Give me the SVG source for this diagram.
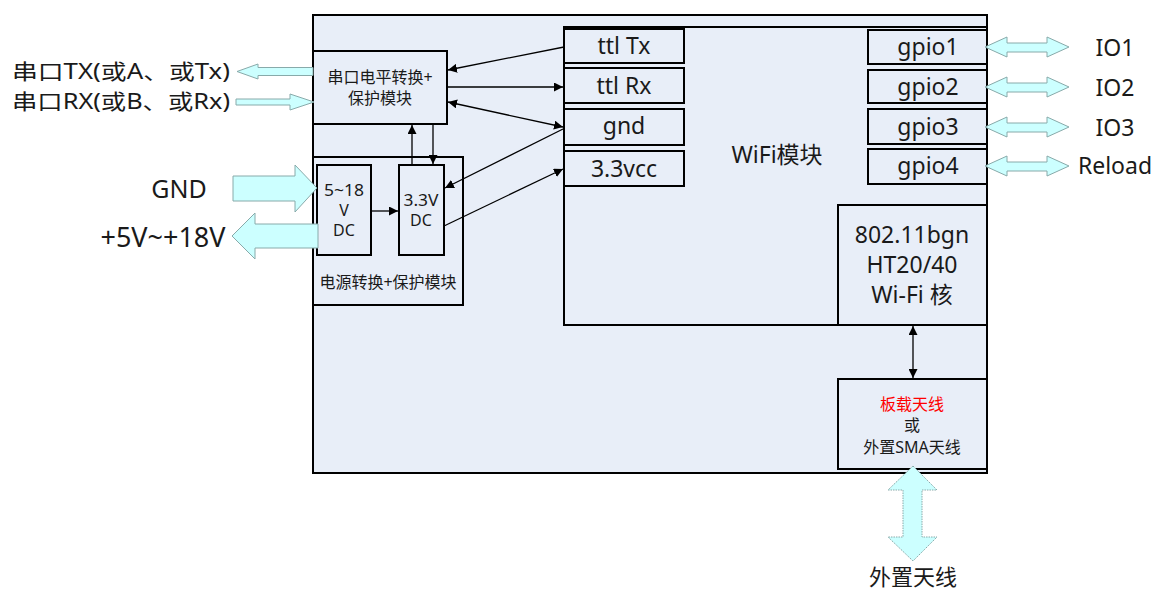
<svg xmlns="http://www.w3.org/2000/svg" width="1159" height="593" viewBox="0 0 1159 593">
<style>
text{font-family:"Noto Sans","Noto Sans CJK SC",sans-serif;fill:#1a1a1a;text-anchor:middle}
.box{fill:#E8EEF8;stroke:#000;stroke-width:2}
.blk{fill:#CCFFFF;stroke:#8aa;stroke-width:1}
.ln{stroke:#000;stroke-width:1.3;fill:none}
.big{font-size:23px}
.sm{font-size:16px}
.md{font-size:16px}
</style>
<defs>
<marker id="ah" viewBox="0 0 10 10" refX="10" refY="5" markerWidth="9" markerHeight="9" markerUnits="userSpaceOnUse" orient="auto-start-reverse"><path d="M0,0 L10,5 L0,10 Z" fill="#000"/></marker>
</defs>
<g id="outer"><rect class="box" x="313" y="15" width="674" height="458"/></g>
<g id="wifi"><rect class="box" x="564" y="27" width="423" height="298"/><text class="big" x="777" y="163">WiFi模块</text></g>
<g id="ttltx"><rect class="box" x="564" y="29" width="120" height="34"/><text class="big" x="624" y="54">ttl Tx</text></g>
<g id="ttlrx"><rect class="box" x="564" y="68" width="120" height="35"/><text class="big" x="624" y="94">ttl Rx</text></g>
<g id="gnd"><rect class="box" x="564" y="109" width="120" height="36"/><text class="big" x="624" y="134">gnd</text></g>
<g id="vcc"><rect class="box" x="564" y="151" width="120" height="35"/><text class="big" x="624" y="177">3.3vcc</text></g>
<g id="gpio1"><rect class="box" x="868" y="30" width="119" height="34"/><text class="big" x="928" y="55">gpio1</text></g>
<g id="gpio2"><rect class="box" x="868" y="70" width="119" height="33"/><text class="big" x="928" y="95">gpio2</text></g>
<g id="gpio3"><rect class="box" x="868" y="109" width="119" height="35"/><text class="big" x="928" y="135">gpio3</text></g>
<g id="gpio4"><rect class="box" x="868" y="149" width="119" height="35"/><text class="big" x="928" y="174">gpio4</text></g>
<g id="core"><rect class="box" x="838" y="205" width="149" height="120"/>
<text class="big" x="912" y="243">802.11bgn</text><text class="big" x="912" y="273">HT20/40</text><text class="big" x="912" y="303">Wi-Fi 核</text></g>
<g id="ant"><rect class="box" x="838" y="379" width="149" height="90"/>
<text class="sm" x="912" y="410" style="fill:#ff0000">板载天线</text><text class="sm" x="912" y="431">或</text><text class="sm" x="912" y="453">外置SMA天线</text></g>
<g id="serial"><rect class="box" x="313" y="51" width="134" height="73"/>
<text class="sm" x="380" y="83">串口电平转换+</text><text class="sm" x="380" y="104">保护模块</text></g>
<g id="power"><rect class="box" x="313" y="157" width="150" height="148"/>
<text class="sm" x="388" y="288">电源转换+保护模块</text></g>
<g id="v518"><rect class="box" x="317" y="165" width="54" height="90"/>
<text class="md" x="344" y="196" textLength="40" lengthAdjust="spacingAndGlyphs">5~18</text><text class="md" x="344" y="216">V</text><text class="md" x="344" y="236">DC</text></g>
<g id="v33"><rect class="box" x="399" y="165" width="45" height="90"/>
<text class="md" x="421" y="206" textLength="35" lengthAdjust="spacingAndGlyphs">3.3V</text><text class="md" x="421" y="226">DC</text></g>
<g id="connectors">
<line class="ln" x1="564" y1="47" x2="448" y2="70" marker-end="url(#ah)"/>
<line class="ln" x1="448" y1="87" x2="563" y2="87" marker-end="url(#ah)"/>
<line class="ln" x1="448" y1="102" x2="563" y2="127" marker-start="url(#ah)" marker-end="url(#ah)"/>
<line class="ln" x1="563" y1="129" x2="445" y2="188" marker-end="url(#ah)"/>
<line class="ln" x1="444" y1="226" x2="563" y2="169" marker-end="url(#ah)"/>
<line class="ln" x1="412" y1="165" x2="412" y2="125" marker-end="url(#ah)"/>
<line class="ln" x1="433" y1="124" x2="433" y2="164" marker-end="url(#ah)"/>
<line class="ln" x1="371" y1="211" x2="398" y2="211" marker-end="url(#ah)"/>
<line class="ln" x1="913" y1="326" x2="913" y2="378" marker-start="url(#ah)" marker-end="url(#ah)"/>
<path class="blk" d="M313,67.5 L258,67.5 L258,64 L237,71.5 L258,79 L258,75.5 L313,75.5 Z"/>
<path class="blk" d="M236,99 L290,99 L290,94 L314,102 L290,110 L290,105 L236,105 Z"/>
<path class="blk" d="M233,176 L295,176 L295,165 L317,188 L295,212 L295,201 L233,201 Z"/>
<path class="blk" d="M318,224 L255,224 L255,213 L232,236 L255,259 L255,248 L318,248 Z"/>
<path class="blk" d="M985,47 L1007,37 L1007,43 L1047,43 L1047,37 L1069,47 L1047,57 L1047,52 L1007,52 L1007,57 Z"/>
<path class="blk" d="M985,87 L1007,77 L1007,83 L1047,83 L1047,77 L1069,87 L1047,97 L1047,92 L1007,92 L1007,97 Z"/>
<path class="blk" d="M985,127 L1007,117 L1007,123 L1047,123 L1047,117 L1069,127 L1047,137 L1047,132 L1007,132 L1007,137 Z"/>
<path class="blk" d="M985,166 L1007,156 L1007,162 L1047,162 L1047,156 L1069,166 L1047,176 L1047,171 L1007,171 L1007,176 Z"/>
<path class="blk" style="stroke-dasharray:1.5 1" d="M913,466 L937,490 L922,490 L922,537 L937,537 L913,561 L888,537 L903,537 L903,490 L888,490 Z"/>
</g>
<g id="labels">
<text style="font-size:21px;text-anchor:start" x="12" y="79" textLength="218" lengthAdjust="spacingAndGlyphs">串口TX(或A、或Tx)</text>
<text style="font-size:21px;text-anchor:start" x="12" y="109" textLength="218" lengthAdjust="spacingAndGlyphs">串口RX(或B、或Rx)</text>
<text style="font-size:25px" x="179" y="198">GND</text>
<text style="font-size:27px" x="163" y="247">+5V~+18V</text>
<text class="big" x="1115" y="56">IO1</text>
<text class="big" x="1115" y="96">IO2</text>
<text class="big" x="1115" y="136">IO3</text>
<text class="big" x="1115" y="174">Reload</text>
<text style="font-size:22px" x="913" y="585">外置天线</text>
</g>
</svg>
